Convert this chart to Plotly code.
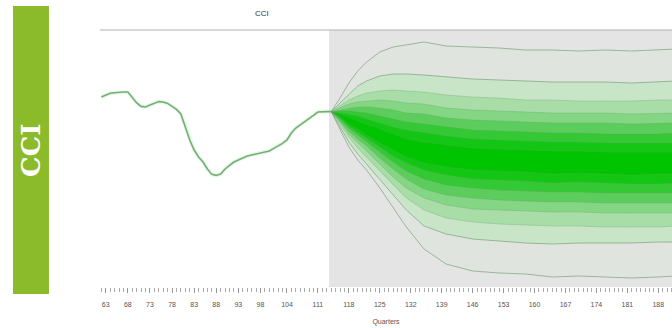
import plotly.graph_objects as go

# ---------------- data ----------------
hist_quarters = list(range(62, 115))
hist_cci = [103.15, 103.23, 103.34, 103.36, 103.39, 103.40, 103.40, 103.15, 102.85, 102.68,
            102.65, 102.75, 102.85, 102.92, 102.90, 102.83, 102.68, 102.53, 102.30, 101.65,
            101.00, 100.50, 100.15, 99.90, 99.55, 99.28, 99.23, 99.30, 99.55, 99.73,
            99.90, 100.00, 100.10, 100.20, 100.25, 100.30, 100.35, 100.40, 100.45, 100.58,
            100.70, 100.83, 101.00, 101.35, 101.60, 101.75, 101.90, 102.05, 102.23, 102.40,
            102.42, 102.42, 102.42]

fan_quarters = [114, 116, 118, 120, 122, 125, 128, 131, 135, 140, 146, 152, 158, 164, 170, 176, 182, 188, 192]

# upper band limits, outermost first
upper_1 = [102.42, 103.10, 103.85, 104.45, 104.90, 105.40, 105.65, 105.75, 105.90, 105.70, 105.65, 105.60, 105.50, 105.50, 105.45, 105.50, 105.45, 105.50, 105.55]
upper_2 = [102.42, 102.85, 103.30, 103.70, 103.95, 104.20, 104.30, 104.30, 104.25, 104.15, 104.05, 104.00, 103.95, 103.90, 103.90, 103.90, 103.85, 103.90, 103.95]
upper_3 = [102.42, 102.70, 103.00, 103.20, 103.35, 103.45, 103.50, 103.45, 103.40, 103.25, 103.15, 103.10, 103.00, 103.00, 102.95, 102.95, 102.95, 103.00, 103.00]
upper_4 = [102.42, 102.60, 102.80, 102.90, 102.95, 103.00, 102.95, 102.85, 102.80, 102.60, 102.50, 102.45, 102.40, 102.35, 102.35, 102.35, 102.30, 102.35, 102.35]
upper_5 = [102.42, 102.50, 102.60, 102.65, 102.65, 102.60, 102.50, 102.35, 102.30, 102.10, 102.00, 101.95, 101.90, 101.85, 101.85, 101.85, 101.80, 101.85, 101.85]
upper_6 = [102.42, 102.45, 102.45, 102.40, 102.35, 102.20, 102.05, 101.90, 101.80, 101.65, 101.50, 101.45, 101.40, 101.35, 101.35, 101.30, 101.30, 101.30, 101.35]
upper_7 = [102.42, 102.35, 102.30, 102.20, 102.05, 101.85, 101.65, 101.50, 101.35, 101.20, 101.05, 101.00, 100.95, 100.90, 100.90, 100.85, 100.85, 100.85, 100.85]
upper_8 = [102.42, 102.30, 102.15, 101.95, 101.80, 101.55, 101.30, 101.05, 100.90, 100.75, 100.60, 100.55, 100.50, 100.45, 100.45, 100.40, 100.40, 100.40, 100.40]

# lower band limits, outermost first
lower_1 = [102.42, 101.55, 100.65, 100.00, 99.50, 98.60, 97.60, 96.65, 95.55, 94.80, 94.45, 94.35, 94.30, 94.15, 94.20, 94.15, 94.10, 94.15, 94.20]
lower_2 = [102.42, 101.65, 100.90, 100.30, 99.80, 99.05, 98.30, 97.50, 96.70, 96.30, 96.05, 95.95, 95.85, 95.80, 95.85, 95.85, 95.85, 95.90, 95.90]
lower_3 = [102.42, 101.80, 101.15, 100.60, 100.15, 99.45, 98.75, 98.10, 97.50, 97.10, 96.90, 96.80, 96.75, 96.70, 96.70, 96.65, 96.65, 96.65, 96.70]
lower_4 = [102.42, 101.90, 101.30, 100.85, 100.45, 99.80, 99.15, 98.60, 98.10, 97.75, 97.55, 97.50, 97.45, 97.40, 97.40, 97.35, 97.35, 97.35, 97.35]
lower_5 = [102.42, 101.95, 101.45, 101.05, 100.70, 100.10, 99.55, 99.05, 98.55, 98.25, 98.10, 98.00, 97.95, 97.90, 97.90, 97.85, 97.85, 97.85, 97.85]
lower_6 = [102.42, 102.05, 101.60, 101.25, 100.90, 100.40, 99.90, 99.45, 99.05, 98.75, 98.60, 98.50, 98.45, 98.40, 98.40, 98.35, 98.35, 98.35, 98.35]
lower_7 = [102.42, 102.10, 101.70, 101.40, 101.10, 100.65, 100.20, 99.85, 99.50, 99.25, 99.05, 99.00, 98.95, 98.85, 98.90, 98.85, 98.80, 98.80, 98.85]
lower_8 = [102.42, 102.15, 101.80, 101.55, 101.25, 100.85, 100.50, 100.15, 99.85, 99.65, 99.50, 99.45, 99.40, 99.30, 99.35, 99.30, 99.25, 99.30, 99.30]

tick_values = [63, 68, 73, 78, 83, 88, 93, 98, 104, 111, 118, 125, 132, 139, 146, 153, 160, 167, 174, 181, 188]
tick_labels = [str(v) for v in tick_values]
forecast_start = 113.5

uppers = [upper_1, upper_2, upper_3, upper_4, upper_5, upper_6, upper_7, upper_8]
lowers = [lower_1, lower_2, lower_3, lower_4, lower_5, lower_6, lower_7, lower_8]
band_colors = ["#dfe4df", "#c8e5c8", "#a8dda8", "#84d584", "#5ccd5c", "#34c834", "#14c614", "#00c400"]

# ---------------- figure ----------------
fig = go.Figure()

for up, lo, col in zip(uppers, lowers, band_colors):
    fig.add_trace(go.Scatter(
        x=fan_quarters + fan_quarters[::-1], y=up + lo[::-1],
        fill="toself", fillcolor=col, mode="lines", line=dict(width=0),
        hoverinfo="skip", showlegend=False))

for i, (up, lo) in enumerate(zip(uppers, lowers)):
    lc = "rgba(130,165,130,0.75)" if i < 2 else "rgba(100,160,100,0.3)"
    for s in (up, lo):
        fig.add_trace(go.Scatter(x=fan_quarters, y=s, mode="lines",
                                 line=dict(color=lc, width=1),
                                 hoverinfo="skip", showlegend=False))

fig.add_trace(go.Scatter(x=hist_quarters, y=hist_cci, mode="lines",
                         line=dict(color="rgba(180,240,180,0.35)", width=4),
                         hoverinfo="skip", showlegend=False))
fig.add_trace(go.Scatter(x=hist_quarters, y=hist_cci, mode="lines",
                         line=dict(color="#78ab78", width=1.6),
                         showlegend=False))

shapes = [
    dict(type="rect", xref="x", yref="paper", x0=forecast_start, x1=200, y0=0, y1=1,
         fillcolor="#e4e4e4", line=dict(width=0), layer="below"),
    dict(type="line", xref="paper", yref="paper", x0=0, x1=1, y0=1, y1=1,
         line=dict(color="#b0b0b0", width=1.2)),
    dict(type="rect", xref="paper", yref="paper", x0=-0.1521, x1=-0.0892,
         y0=-0.0272, y1=1.0934, fillcolor="#8bbb2b", line=dict(width=0)),
]

annotations = [
    dict(text="<b>CCI</b>", xref="paper", yref="paper", x=-0.1206, y=0.533,
         xanchor="center", yanchor="middle",
         showarrow=False, textangle=-90,
         font=dict(family="DejaVu Serif", size=26, color="white")),
    dict(text="CCI", xref="paper", yref="paper", x=0.2832, y=1.066,
         xanchor="center", yanchor="middle",
         showarrow=False, font=dict(family="Liberation Sans", size=8, color="#333333")),
]

fig.update_layout(
    width=672, height=328,
    margin=dict(l=100, r=0, t=30, b=41),
    paper_bgcolor="white", plot_bgcolor="white",
    shapes=shapes, annotations=annotations,
    xaxis=dict(range=[61.7, 191.1], tickmode="array", tickvals=tick_values, ticktext=tick_labels,
               ticks="outside", ticklen=5, tickcolor="#999", showgrid=False, zeroline=False,
               showline=False, ticklabelstandoff=6,
               tickfont=dict(family="Liberation Sans", size=7, color="#555555"),
               minor=dict(tickmode="linear", tick0=62, dtick=1, ticks="outside", ticklen=4,
                          tickcolor="#aaa", showgrid=False),
               title=dict(text="Quarters", standoff=11,
                          font=dict(family="Liberation Sans", size=7, color="#555555"))),
    yaxis=dict(range=[93.65, 106.5], showticklabels=False, showgrid=False, zeroline=False,
               ticks="", showline=False),
)

fig.write_html("out.html", config={"displayModeBar": False},
               post_script="document.body.style.margin='0px';")
